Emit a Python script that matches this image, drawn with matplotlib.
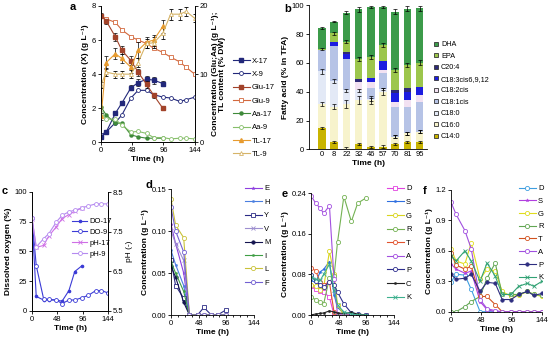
import numpy as np
import matplotlib
matplotlib.use('Agg')
import matplotlib.pyplot as plt
from matplotlib.lines import Line2D
from matplotlib.ticker import MultipleLocator

plt.rcParams['font.family'] = ['Liberation Sans', 'DejaVu Sans']
plt.rcParams['font.size'] = 5.5
plt.rcParams['axes.linewidth'] = 0.6
plt.rcParams['xtick.major.size'] = 2
plt.rcParams['ytick.major.size'] = 2
plt.rcParams['xtick.major.width'] = 0.6
plt.rcParams['ytick.major.width'] = 0.6
plt.rcParams['xtick.minor.size'] = 1.2
plt.rcParams['xtick.major.pad'] = 1.5
plt.rcParams['ytick.major.pad'] = 1.5

# ---------------- data ----------------
# panel a
t17 = [0, 8, 22, 32, 46, 57, 70, 81, 95]
t9 = [0, 8, 22, 32, 46, 57, 70, 81, 95, 107, 121, 131, 144]
x17 = [0.3, 0.6, 1.7, 2.3, 3.2, 3.5, 3.7, 3.65, 3.45]
x9 = [0.45, 0.6, 1.15, 1.6, 2.6, 3.05, 3.05, 2.8, 2.65, 2.6, 2.4, 2.5, 2.65]
glu17 = [18.6, 17.8, 15.5, 13.5, 12.0, 10.3, 8.5, 6.9, 5.0]
glu9 = [18.5, 18.1, 17.6, 16.5, 15.5, 15.0, 14.5, 13.8, 13.2, 12.5, 11.8, 11.0, 10.0]
aa17 = [5.2, 4.0, 2.8, 2.8, 1.1, 0.8, 0.6, 0.6, 0.6]
aa9 = [4.3, 3.4, 3.4, 2.5, 1.5, 1.6, 1.3, 0.7, 0.7, 0.5, 0.6, 0.6, 0.5]
tl17 = [3.8, 11.7, 13.0, 12.3, 11.0, 13.5, 14.7, 15.0, 17.0]
tl9 = [8.4, 10.3, 10.0, 10.0, 10.0, 11.7, 14.5, 14.6, 16.0, 18.8, 18.8, 19.2, 18.2]
x17_err = [0.05, 0.05, 0.1, 0.1, 0.15, 0.2, 0.2, 0.2, 0.15]
glu17_err = [0.4, 0.5, 0.6, 0.6, 0.6, 0.5, 0.5, 0.4, 0.3]
tl17_err = [0.5, 1.0, 0.8, 0.7, 0.8, 1.2, 0.8, 0.8, 1.0]
tl9_err = [0.4, 0.6, 0.5, 0.5, 0.6, 0.7, 0.6, 0.8, 0.9, 0.8, 0.8, 0.6, 0.6]

# panel b
b_times = ['0', '8', '22', '32', '46', '57', '70', '81', '95']
fa_names = ['C14:0', 'C16:0', 'C18:0', 'C18:1cis', 'C18:2cis',
            'C18:3cis6,9,12', 'C20:4', 'EPA', 'DHA']
fa_colors = ['#C9B400', '#F7F3CC', '#E3E9F6', '#B6C3E6', '#F2E1F2',
             '#1C1CE0', '#2E2A78', '#9CC64C', '#3C9B4A']
c14 = [14.6, 5.3, 0.5, 3.5, 1.6, 1.9, 3.5, 4.9, 4.9]
c16 = [17.0, 24.3, 31.0, 30.8, 32.7, 38.0, 5.3, 6.2, 7.4]
c180 = [22.5, 17.9, 9.5, 6.7, 0.5, 2.0, 0.0, 0.0, 0.0]
c181 = [15.0, 24.3, 22.0, 0.0, 7.6, 11.0, 20.8, 18.5, 20.8]
c182 = [0.0, 0.0, 0.0, 6.0, 4.6, 2.2, 3.4, 4.7, 4.6]
c183 = [0.0, 3.0, 3.0, 0.0, 2.3, 5.9, 6.0, 5.7, 5.8]
c204 = [0.0, 0.0, 1.4, 1.8, 0.0, 0.0, 2.0, 2.4, 0.0]
epa = [0.5, 5.8, 7.4, 13.7, 14.6, 11.6, 14.0, 16.2, 16.7]
dha = [14.5, 8.1, 20.1, 34.7, 34.7, 26.1, 40.6, 39.0, 37.7]
tot_err = [0.8, 0.6, 1.0, 1.8, 0.8, 0.8, 1.8, 1.8, 1.8]
epa_err = [0.5, 1.0, 1.0, 1.5, 1.5, 1.5, 1.6, 1.5, 1.6]
c16_err = [1.5, 1.8, 2.8, 2.5, 2.5, 2.5, 0.8, 1.2, 1.0]
c180_err = [2.0, 1.2, 1.0, 1.0, 1.0, 1.0, 1.0, 1.0, 1.0]

# panel c
do17 = [78, 12, 9, 9, 9, 8, 17, 33, 38]
do9 = [78, 38, 10, 9.5, 9, 6, 9, 9, 11, 13, 17, 17, 15]
ph17 = [7.83, 7.1, 7.15, 7.39, 7.62, 7.83, 7.93, 8.01, 8.1]
ph9 = [7.85, 7.11, 7.32, 7.45, 7.74, 7.91, 8.0, 8.04, 8.1, 8.15, 8.2, 8.2, 8.2]

# panel d
t_d = [0, 8, 22, 32, 46, 57, 70, 81, 95]
d_names = ['E', 'H', 'Y', 'V', 'M', 'I', 'L', 'F']
d_E = [0.108, 0.085, 0.05, 0, 0, 0, 0, 0, 0]
d_H = [0.077, 0.06, 0.035, 0, 0, 0, 0, 0, 0]
d_Y = [0.065, 0.035, 0.02, 0, 0, 0.009, 0, 0, 0.006]
d_V = [0.1, 0.085, 0.065, 0, 0, 0, 0, 0, 0]
d_M = [0.058, 0.045, 0.015, 0, 0, 0, 0, 0, 0]
d_I = [0.063, 0.05, 0.028, 0, 0, 0, 0, 0, 0]
d_L = [0.138, 0.107, 0.092, 0, 0, 0, 0, 0, 0]
d_F = [0.128, 0.1, 0.075, 0, 0, 0, 0, 0, 0]

# panel e
t_e = [0, 8, 16, 22, 32, 40, 46, 57, 70, 81, 95]
e_names = ['D', 'S', 'G', 'R', 'T', 'A', 'P', 'C', 'K']
e_D = [0.058, 0.052, 0.048, 0.045, 0.035, 0.0, 0, 0, 0, 0, 0]
e_S = [0.068, 0.064, 0.085, 0.09, 0.105, 0.04, 0.015, 0.003, 0, 0, 0]
e_G = [0.06, 0.057, 0.05, 0.055, 0.125, 0.08, 0.02, 0, 0, 0, 0]
e_R = [0.036, 0.03, 0.025, 0.022, 0.073, 0.076, 0.143, 0.233, 0.184, 0.22, 0.23]
e_T = [0.093, 0.087, 0.065, 0.06, 0.065, 0.005, 0, 0, 0, 0, 0]
e_A = [0.235, 0.22, 0.21, 0.2, 0.215, 0.07, 0, 0, 0, 0, 0]
e_P = [0.078, 0.066, 0.06, 0.055, 0.065, 0.06, 0.045, 0.022, 0.004, 0.002, 0]
e_C = [0.0, 0.002, 0.003, 0.004, 0.008, 0.006, 0.004, 0.003, 0.005, 0.002, 0]
e_K = [0.075, 0.07, 0.068, 0.08, 0.1, 0.05, 0.02, 0.006, 0.002, 0, 0]

# panel f
t_f = [0, 8, 22, 32, 46, 57, 70, 81, 95, 107, 121, 131, 144]
f_names = ['D', 'S', 'G', 'R', 'T', 'A', 'P', 'K']
f_D = [0.29, 0.37, 0.36, 0.22, 0.0, 0, 0, 0, 0, 0, 0, 0, 0]
f_S = [0.47, 0.42, 0.38, 0.4, 0.1, 0.02, 0, 0, 0, 0, 0, 0, 0]
f_G = [0.62, 0.5, 0.47, 0.68, 0.32, 0.42, 0.4, 0.2, 0.15, 0.16, 0.2, 0.17, 0.15]
f_R = [0.0, 0.0, 0.05, 0.1, 0.15, 0.33, 0.48, 0.17, 0.17, 0.17, 0.2, 0.17, 0.16]
f_T = [0.58, 0.46, 0.42, 0.45, 0.15, 0.15, 0.07, 0, 0, 0, 0, 0, 0]
f_A = [1.08, 0.96, 0.8, 0.62, 0.12, 0.03, 0.01, 0, 0, 0, 0, 0, 0]
f_P = [0.37, 0.32, 0.33, 0.37, 0.2, 0.29, 0.28, 0.12, 0.12, 0.17, 0.2, 0.16, 0.18]
f_K = [0.55, 0.5, 0.6, 0.5, 0.3, 0.48, 0.35, 0.17, 0.17, 0.25, 0.28, 0.25, 0.3]

W, H = 550, 342


def box(x0, x1, ytop, ybot):
    return [x0 / W, 1 - ybot / H, (x1 - x0) / W, (ybot - ytop) / H]


def style(kind, color):
    # marker styles used in the amino acid and other panels
    d = dict(color=color, lw=0.8, mec=color)
    if kind == 'o':
        d.update(marker='o', ms=3, mfc='white', mew=0.6)
    elif kind == 's':
        d.update(marker='s', ms=3, mfc='white', mew=0.6)
    elif kind == 'fo':
        d.update(marker='o', ms=2.5, mfc=color, mew=0.5)
    elif kind == 'dot':
        d.update(marker='o', ms=1.6, mfc=color, mew=0.3)
    elif kind == 'x':
        d.update(marker='x', ms=2.5, mew=0.6)
    elif kind == '*':
        d.update(marker='*', ms=2.5, mew=0.3, mfc=color)
    return d


def time_axis(ax):
    ax.set_xlim(0, 144)
    ax.set_xticks([0, 48, 96, 144])
    ax.set_xlabel('Time (h)', fontweight='bold', fontsize=6, labelpad=1.5)


def letter(x, y, s):
    fig.text(x / W, 1 - y / H, s, fontweight='bold', fontsize=8, ha='left', va='top')


def side_legend(handles, labels, x, ytop, fs, spacing, hl=2.2):
    fig.legend(handles, labels, loc='upper left', bbox_to_anchor=(x / W, 1 - ytop / H),
               frameon=False, fontsize=fs, labelspacing=spacing, handlelength=hl,
               handletextpad=0.3, borderpad=0, borderaxespad=0)


fig = plt.figure(figsize=(5.5, 3.42), dpi=100)

# ---------------- panel a ----------------
axa = fig.add_axes(box(101, 194.7, 6, 142.3))
axa2 = axa.twinx()
eb = dict(ecolor='black', elinewidth=0.5, capsize=1.2, capthick=0.5)
navy = '#22287A'
sa = {
    'X-17': dict(color=navy, marker='s', ms=2.6, mfc=navy, mec=navy, lw=0.8),
    'X-9': dict(color=navy, marker='o', ms=2.8, mfc='white', mec=navy, lw=0.8, mew=0.6),
    'Glu-17': dict(color='#A2432A', marker='s', ms=3, mfc='#A2432A', mec='#A2432A', lw=0.8),
    'Glu-9': dict(color='#D3693E', marker='s', ms=3, mfc='white', mec='#D3693E', lw=0.8, mew=0.6),
    'Aa-17': dict(color='#3F8A3A', marker='o', ms=2.2, mfc='#3F8A3A', mec='#3F8A3A', lw=0.8),
    'Aa-9': dict(color='#86BF6A', marker='o', ms=2.8, mfc='white', mec='#86BF6A', lw=0.8, mew=0.6),
    'TL-17': dict(color='#E79B2F', marker='^', ms=2.8, mfc='#E79B2F', mec='#E79B2F', lw=0.8),
    'TL-9': dict(color='#D6B468', marker='^', ms=2.8, mfc='white', mec='#D6B468', lw=0.8, mew=0.6),
}
axa.errorbar(t17, x17, yerr=x17_err, **sa['X-17'], **eb, zorder=3)
axa.plot(t9, x9, **sa['X-9'], zorder=3)
axa2.errorbar(t17, glu17, yerr=glu17_err, **sa['Glu-17'], **eb)
axa2.plot(t9, glu9, **sa['Glu-9'])
axa2.plot(t17, aa17, **sa['Aa-17'])
axa2.plot(t9, aa9, **sa['Aa-9'])
axa2.errorbar(t17, tl17, yerr=tl17_err, **sa['TL-17'], **eb)
axa2.errorbar(t9, tl9, yerr=tl9_err, **sa['TL-9'], **eb)
axa.set_ylim(0, 8)
axa.set_yticks([0, 2, 4, 6, 8])
axa2.set_ylim(0, 20)
axa2.set_yticks([0, 10, 20])
time_axis(axa)
axa.set_ylabel('Concentration (X) (g L⁻¹)', fontweight='bold', fontsize=6, labelpad=2)
axa2.set_ylabel('Concentration (Glu;Aa) (g L⁻¹);\nTL content (% DW)', fontweight='bold',
                fontsize=6, labelpad=3, linespacing=1.0)
axa.spines['top'].set_visible(False)
axa2.spines['top'].set_visible(False)
letter(70, 2, 'a')
side_legend([Line2D([], [], **v) for v in sa.values()], list(sa.keys()),
            233, 57.5, 5.5, 0.78)

# ---------------- panel b ----------------
axb = fig.add_axes(box(309, 427, 5.3, 149.3))
layers = [c14, c16, c180, c181, c182, c183, c204, epa, dha]
xb = np.arange(len(b_times))
bottom = np.zeros(len(b_times))
tops = []
for vals, col in zip(layers, fa_colors):
    axb.bar(xb, vals, 0.62, bottom=bottom, color=col, edgecolor='none')
    bottom = bottom + np.array(vals)
    tops.append(bottom.copy())
ebb = dict(fmt='none', ecolor='black', elinewidth=0.5, capsize=1.3, capthick=0.5)
axb.errorbar(xb, tops[-1], yerr=tot_err, **ebb)
axb.errorbar(xb, tops[7], yerr=epa_err, **ebb)
axb.errorbar(xb, tops[1], yerr=c16_err, **ebb)
axb.errorbar(xb, tops[2], yerr=c180_err, **ebb)
axb.errorbar(xb, tops[0], yerr=0.8, **ebb)
axb.set_xlim(-1.06, 8.6)
axb.set_ylim(0, 100)
axb.set_yticks([0, 20, 40, 60, 80, 100])
axb.set_xticks(xb)
axb.set_xticklabels(b_times)
axb.set_xlabel('Time (h)', fontweight='bold', fontsize=6, labelpad=1.5)
axb.set_ylabel('Fatty acid (% in TFA)', fontweight='bold', fontsize=6, labelpad=2)
axb.spines['top'].set_visible(False)
axb.spines['right'].set_visible(False)
axb.tick_params(axis='x', length=0)
letter(284, 4, 'b')
hb = [Line2D([], [], ls='none', marker='s', ms=3.2, mfc=c, mec='#333333', mew=0.6)
      for c in fa_colors[::-1]]
side_legend(hb, fa_names[::-1], 433, 41, 5.2, 0.62, hl=0.8)

# ---------------- panel c ----------------
axc = fig.add_axes(box(32, 108, 192, 310.7))
axc2 = axc.twinx()
doc = '#3B3BD6'
sc = {
    'DO-17': dict(color=doc, marker='o', ms=1.6, mfc=doc, mec=doc, lw=0.8),
    'DO-9': dict(color=doc, marker='o', ms=2.8, mfc='white', mec=doc, lw=0.8, mew=0.6),
    'pH-17': dict(color='#CF6FE6', marker='x', ms=2.5, mew=0.6, lw=0.8),
    'pH-9': dict(color='#B58AF0', marker='o', ms=2.8, mfc='white', mec='#B58AF0', lw=0.8, mew=0.6),
}
axc.plot(t17, do17, **sc['DO-17'])
axc.plot(t9, do9, **sc['DO-9'])
axc2.plot(t17, ph17, **sc['pH-17'])
axc2.plot(t9, ph9, **sc['pH-9'])
axc.set_ylim(0, 100)
axc.set_yticks([0, 25, 50, 75, 100])
axc2.set_ylim(5.5, 8.5)
axc2.set_yticks([5.5, 6.5, 7.5, 8.5])
time_axis(axc)
axc.set_ylabel('Dissolved oxygen (%)', fontweight='bold', fontsize=6, labelpad=2)
axc2.set_ylabel('pH (-)', fontsize=6, labelpad=2)
axc.spines['top'].set_visible(False)
axc2.spines['top'].set_visible(False)
letter(2, 186, 'c')
side_legend([Line2D([], [], **v) for v in sc.values()], list(sc.keys()),
            72, 218, 5.5, 0.45, hl=2.0)

# ---------------- panel d ----------------
axd = fig.add_axes(box(171, 254, 189, 315))
sd = [('E', d_E, style('*', '#8E3FE0')), ('H', d_H, style('dot', '#4A7FE0')),
      ('Y', d_Y, style('s', '#2B2B85')), ('V', d_V, style('x', '#9D8FCF')),
      ('M', d_M, style('fo', '#14144F')), ('I', d_I, style('dot', '#3F9E45')),
      ('L', d_L, style('o', '#C9C23A')), ('F', d_F, style('o', '#7260D2'))]
for name, vals, st in sd:
    axd.plot(t_d, vals, **st)
axd.set_ylim(0, 0.15)
axd.set_yticks([0, 0.05, 0.10, 0.15])
axd.set_yticklabels(['0.00', '0.05', '0.10', '0.15'])
time_axis(axd)
axd.xaxis.set_minor_locator(MultipleLocator(12))
axd.set_ylabel('Concentration (g L⁻¹)', fontweight='bold', fontsize=6, labelpad=2)
axd.spines['top'].set_visible(False)
axd.spines['right'].set_visible(False)
letter(146, 180, 'd')
side_legend([Line2D([], [], **s[2]) for s in sd], d_names, 245, 185, 5.5, 0.8)

# ---------------- panel e ----------------
axe = fig.add_axes(box(311, 394, 193, 315))
se = [('D', e_D, style('s', '#E043DF')), ('S', e_S, style('dot', '#2F6FE0')),
      ('G', e_G, style('o', '#D9D51E')), ('R', e_R, style('o', '#74B253')),
      ('T', e_T, style('o', '#E2532E')), ('A', e_A, style('o', '#A350E0')),
      ('P', e_P, style('o', '#2F2F8F')), ('C', e_C, style('dot', '#222222')),
      ('K', e_K, style('x', '#3DB08E'))]
for name, vals, st in se:
    axe.plot(t_e, vals, **st)
axe.set_ylim(0, 0.24)
axe.set_yticks([0, 0.08, 0.16, 0.24])
axe.set_yticklabels(['0.00', '0.08', '0.16', '0.24'])
time_axis(axe)
axe.xaxis.set_minor_locator(MultipleLocator(12))
axe.set_ylabel('Concentration (g L⁻¹)', fontweight='bold', fontsize=6, labelpad=2)
axe.spines['top'].set_visible(False)
axe.spines['right'].set_visible(False)
letter(282, 189, 'e')
side_legend([Line2D([], [], **s[2]) for s in se], e_names, 387, 185, 5.5, 0.82)

# ---------------- panel f ----------------
axf = fig.add_axes(box(451, 542, 190, 311.7))
sf = [('D', f_D, style('o', '#3E9EE0')), ('S', f_S, style('*', '#B23FE0')),
      ('G', f_G, style('o', '#E0DC1E')), ('R', f_R, style('o', '#62A653')),
      ('T', f_T, style('o', '#D2521F')), ('A', f_A, style('o', '#A150E0')),
      ('P', f_P, style('fo', '#2E2E80')), ('K', f_K, style('x', '#31A274'))]
for name, vals, st in sf:
    axf.plot(t_f, vals, **st)
axf.set_ylim(0, 1.2)
axf.set_yticks([0, 0.3, 0.6, 0.9, 1.2])
axf.set_yticklabels(['0.0', '0.3', '0.6', '0.9', '1.2'])
time_axis(axf)
axf.set_ylabel('Concentration (g L⁻¹)', fontweight='bold', fontsize=6, labelpad=2)
axf.spines['top'].set_visible(False)
axf.spines['right'].set_visible(False)
letter(423, 186, 'f')
side_legend([Line2D([], [], **s[2]) for s in sf], f_names, 519, 185, 5.5, 0.7)

fig.savefig('out.png', dpi=100)
